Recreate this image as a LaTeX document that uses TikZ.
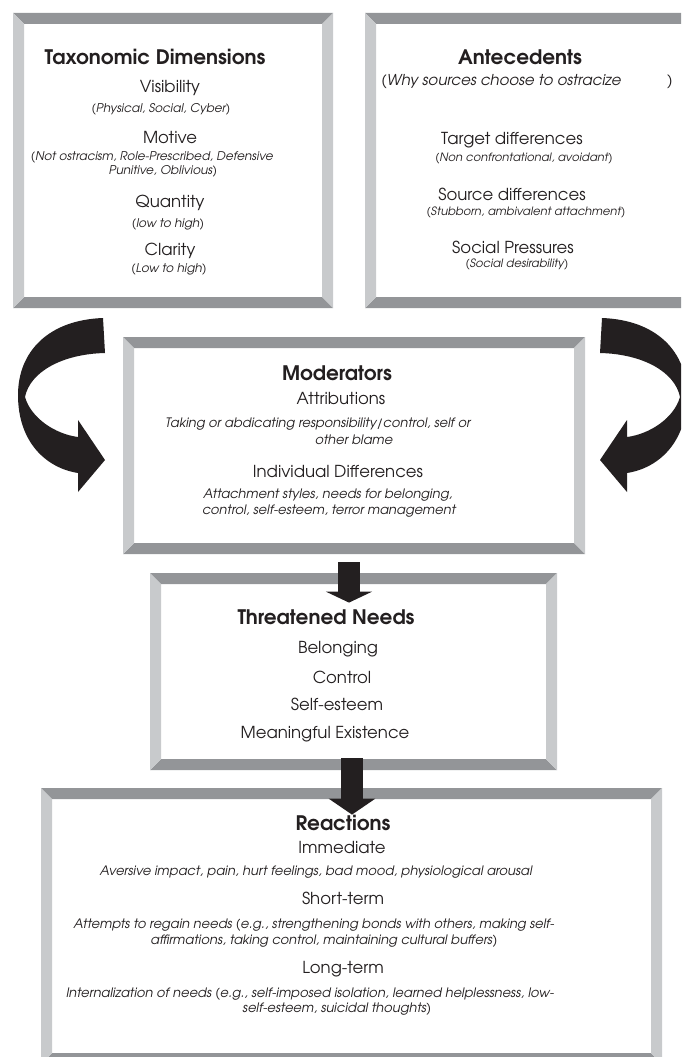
\documentclass[tikz,border=0pt]{standalone}
\usepackage{fontspec}
\setmainfont{TeX Gyre Adventor}
\usetikzlibrary{calc,arrows.meta}

\definecolor{bandDark}{HTML}{939598}
\definecolor{bandLight}{HTML}{C8CACC}
\definecolor{ink}{HTML}{231F20}

\begin{document}
\begin{tikzpicture}[x=1pt, y=-1pt, >=stealth, thick]
\tikzset{
  panel/.style={
    rectangle, inner sep=0pt, fill=white,
    path picture={
      \path (path picture bounding box.north west) coordinate (p1)
            (path picture bounding box.north east) coordinate (p2)
            (path picture bounding box.south east) coordinate (p3)
            (path picture bounding box.south west) coordinate (p4);
      \fill[bandDark]  (p1) -- (p2) -- ($(p2)+(-11,11)$) -- ($(p1)+(11,11)$) -- cycle;
      \fill[bandDark]  (p4) -- (p3) -- ($(p3)+(-11,-11)$) -- ($(p4)+(11,-11)$) -- cycle;
      \fill[bandLight] (p1) -- ($(p1)+(11,11)$) -- ($(p4)+(11,-11)$) -- (p4) -- cycle;
      \fill[bandLight] (p2) -- ($(p2)+(-11,11)$) -- ($(p3)+(-11,-11)$) -- (p3) -- cycle;
    }
  },
  head/.style={text=ink, inner sep=0pt, font=\bfseries\fontsize{20}{22}\selectfont},
  item/.style={text=ink, inner sep=0pt, font=\fontsize{16.5}{18}\selectfont},
  note/.style={text=ink, inner sep=0pt, font=\itshape\fontsize{#1}{#1}\selectfont},
  note/.default=12,
  blockarrow/.style={draw=ink, line width=22pt, -{Triangle[width=46pt,length=#1]}},
  blockarrow/.default=12pt
}
\useasboundingbox (0,0) rectangle (681,1057);
\clip (0,0) rectangle (681,1057);

% Panels
\node[panel, minimum width=320pt, minimum height=295pt] (tax) at (173,160.5) {};
\node[panel, minimum width=330pt, minimum height=295pt] (ant) at (530,160.5) {};
\node[panel, minimum width=462pt, minimum height=217pt] (mod) at (354,445.5) {};
\node[panel, minimum width=407pt, minimum height=197pt] (thr) at (353.5,671.5) {};
\node[panel, minimum width=621pt, minimum height=276pt] (rea) at (351.5,926) {};

% Taxonomic dimensions
\node[head] (taxH) at (155,57) {Taxonomic Dimensions};
\node[item] (vis) at (170,88) {Visibility};
\node[note] (visN) at (161,109) {(Physical, Social, Cyber)};
\node[item] (mot) at (170,138) {Motive};
\node[note] (motN1) at (152,157) {(Not ostracism, Role-Prescribed, Defensive};
\node[note] (motN2) at (163,171) {Punitive, Oblivious)};
\node[item] (qua) at (170,203) {Quantity};
\node[note] (quaN) at (168,224) {(low to high)};
\node[item] (cla) at (170,251) {Clarity};
\node[note] (claN) at (169,269) {(Low to high)};

% Antecedents
\node[head] (antH) at (520,57) {Antecedents};
\node[note=15, anchor=west, font=\fontsize{15}{15}\selectfont] (why) at (381,82)
  {(\textit{Why sources choose to ostracize}\hspace{46pt})};
\node[item] (tgt) at (512,140) {Target differences};
\node[note=11.5] (tgtN) at (524,159) {(Non confrontational, avoidant)};
\node[item] (src) at (512,194) {Source differences};
\node[note=11.5] (srcN) at (526,212) {(Stubborn, ambivalent attachment)};
\node[item] (soc) at (513,247) {Social Pressures};
\node[note=11.5] (socN) at (517,264) {(Social desirability)};

% Moderators
\node[head] (modH) at (337,373) {Moderators};
\node[item] (att) at (341,399) {Attributions};
\node[note=13] (attN1) at (318,424) {Taking or abdicating responsibility/control, self or};
\node[note=13] (attN2) at (354,440) {other blame};
\node[item] (ind) at (338,472) {Individual Differences};
\node[note=13] (indN1) at (328,495) {Attachment styles, needs for belonging,};
\node[note=13] (indN2) at (329,511) {control, self-esteem, terror management};

% Threatened needs
\node[head] (thrH) at (326,617) {Threatened Needs};
\node[item] (bel) at (338,649) {Belonging};
\node[item] (con) at (342,677) {Control};
\node[item] (est) at (337,704) {Self-esteem};
\node[item] (mea) at (325,734) {Meaningful Existence};

% Reactions
\node[head] (reaH) at (343,823) {Reactions};
\node[item] (imm) at (342,847) {Immediate};
\node[note=13] (immN) at (316,872) {Aversive impact, pain, hurt feelings, bad mood, physiological arousal};
\node[item] (sho) at (343,898) {Short-term};
\node[note=13] (shoN1) at (314,925) {Attempts to regain needs (e.g., strengthening bonds with others, making self-};
\node[note=13] (shoN2) at (324,941) {affirmations, taking control, maintaining cultural buffers)};
\node[item] (lon) at (343,969) {Long-term};
\node[note=13] (lonN1) at (310,994) {Internalization of needs (e.g., self-imposed isolation, learned helplessness, low-};
\node[note=13] (lonN2) at (337,1009) {self-esteem, suicidal thoughts)};

% Bent arrows into the moderators
\foreach \sx/\dx in {1/0, -1/705} {
  \begin{scope}[xshift=\dx, xscale=\sx]
    \fill[ink] (103,318) .. controls (48,320) and (18,352) .. (18,395)
      .. controls (18,442) and (46,468) .. (78,473) -- (78,492) -- (105,460)
      -- (78,420) -- (78,437) .. controls (55,434) and (31,418) .. (25,397)
      .. controls (30,372) and (62,354) .. (105,353) -- cycle;
  \end{scope}
}

% Down arrows
\draw[blockarrow=11pt] ($(mod.south)+(-5,8)$) -- ($(thr.north)+(-4.5,30)$);
\draw[blockarrow=16pt] ($(thr.south)+(-1.5,-12)$) -- ($(rea.north)+(0.5,27)$);

\end{tikzpicture}
\end{document}
